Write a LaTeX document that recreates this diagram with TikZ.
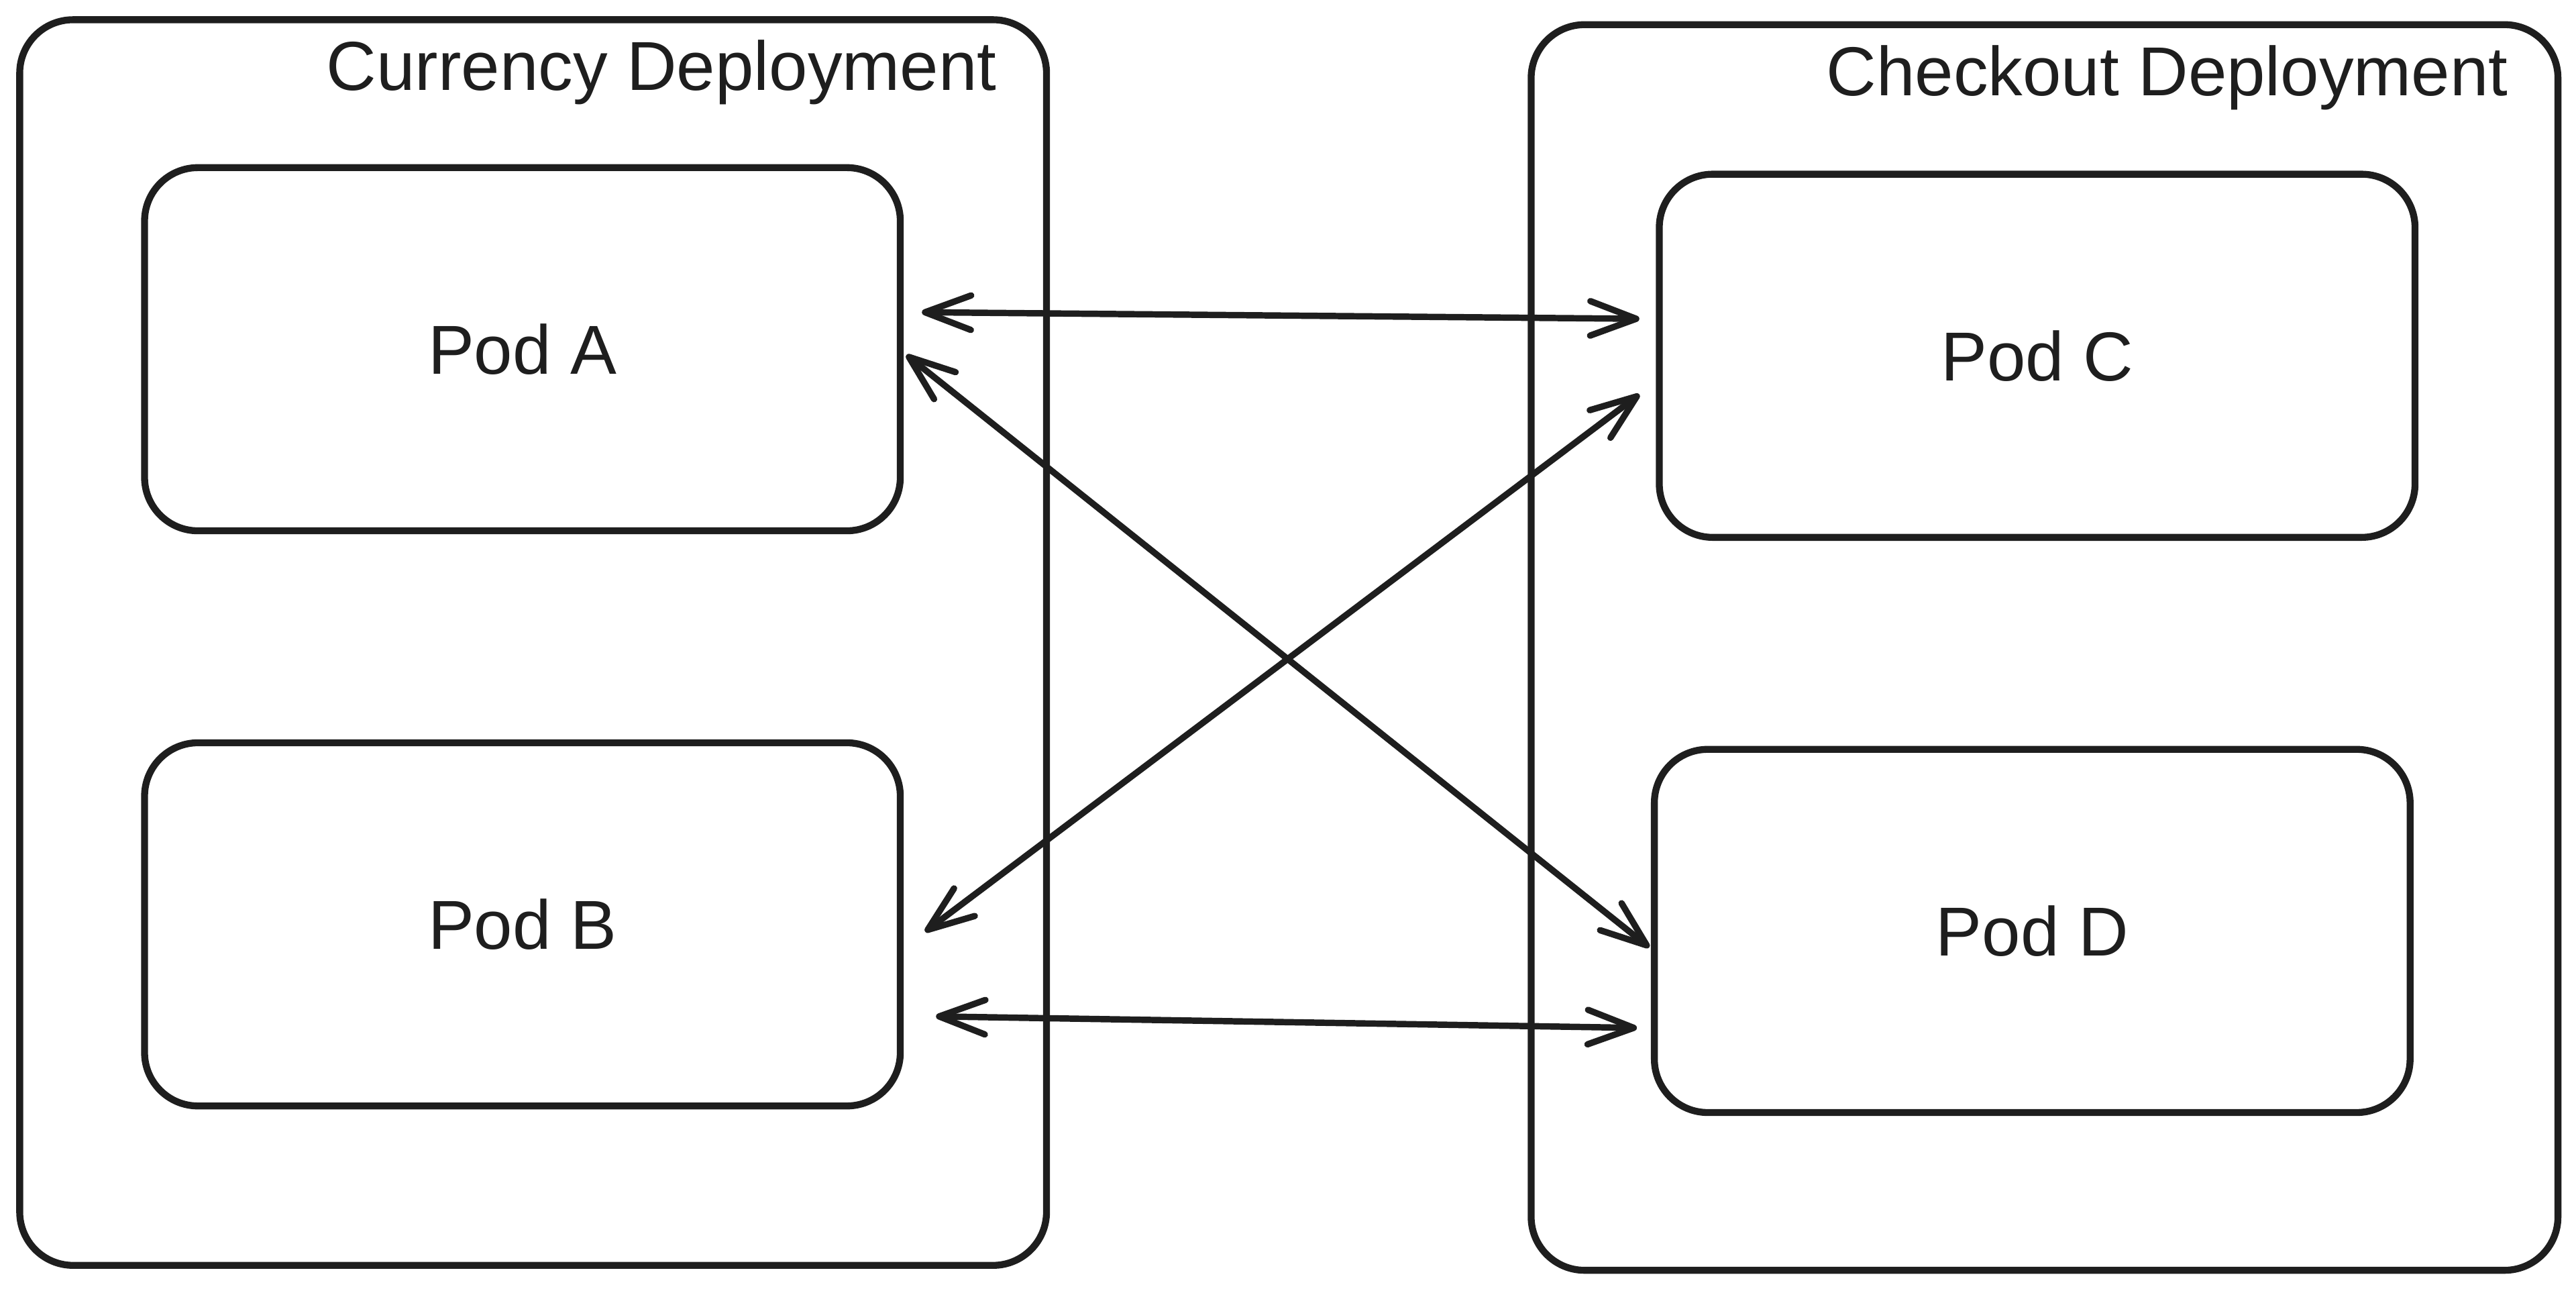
\documentclass[tikz,border=0pt]{standalone}
\usepackage{fontspec}
\setmainfont{Liberation Sans}
\usetikzlibrary{arrows.meta}
\definecolor{ink}{HTML}{1E1E1E}
\begin{document}
\begin{tikzpicture}[x=0.2mm,y=-0.2mm,
  >={Straight Barb[round,length=5.6mm,width=4.2mm]},
  box/.style={draw=ink, line width=2.4pt, rounded corners=6.5mm, inner sep=0pt,
    font=\fontsize{24}{28}\selectfont, text=ink},
  deploy/.style={box, minimum width=125mm, minimum height=151.6mm},
  pod/.style={box, minimum width=92mm, minimum height=44.2mm},
  title/.style={inner sep=0pt, anchor=base east, font=\fontsize{24}{28}\selectfont, text=ink},
  link/.style={draw=ink, line width=2.2pt, line cap=round, <->}]
\useasboundingbox (0,0) rectangle (1568,784);
% deployments
\node[deploy] (cur) at (324.5,391) {};
\node[deploy] (chk) at (1244.5,394) {};
% pods
\node[pod] (A) at (318,212.5) {Pod A};
\node[pod] (B) at (318,562.5) {Pod B};
\node[pod] (C) at (1240,216.5) {Pod C};
\node[pod] (D) at (1237,566.5) {Pod D};
% titles
\node[title] (curt) at (607,55) {Currency Deployment};
\node[title] (chkt) at (1527,58) {Checkout Deployment};
% links
\draw[link] ([shift={(11,-22.5)}]A.east) -- ([shift={(-10,-22.5)}]C.west);
\draw[link] ([shift={(1.6,3.5)}]A.east) -- ([shift={(-1,10)}]D.west);
\draw[link] ([shift={(13,4.5)}]B.east) -- ([shift={(-10,23.5)}]C.west);
\draw[link] ([shift={(19.6,56)}]B.east) -- ([shift={(-8.5,59)}]D.west);
\end{tikzpicture}
\end{document}
